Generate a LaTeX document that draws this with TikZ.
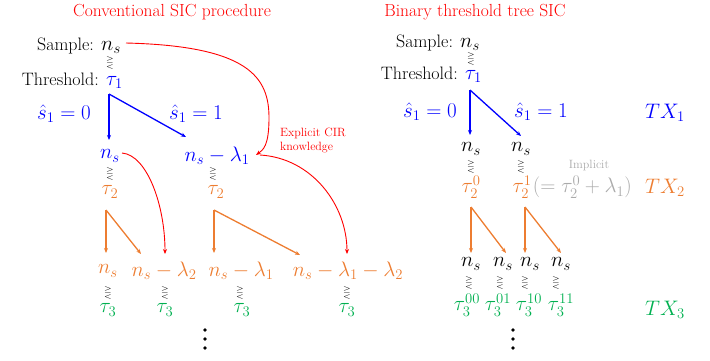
\RequirePackage{fix-cm}
\documentclass[tikz,border=0pt]{standalone}
\usepackage{amssymb}
\usepackage{fontspec}
\usetikzlibrary{arrows.meta}
\definecolor{myblue}{RGB}{0,0,255}
\definecolor{myorange}{RGB}{237,125,49}
\definecolor{mygreen}{RGB}{0,176,80}
\definecolor{mygray}{RGB}{170,170,170}
\definecolor{myred}{RGB}{255,0,0}
\newcommand{\mfs}{\fontsize{21}{24}\selectfont}
\tikzset{
  every node/.style={inner sep=1pt, font=\mfs},
  txt/.style={font=\fontsize{18}{22}\selectfont},
  ttl/.style={text=myred, font=\fontsize{17.5}{20}\selectfont},
  note/.style={text=myred, font=\fontsize{12}{14}\selectfont, align=left},
  cmp/.style={font=\fontsize{10}{11}\selectfont, inner sep=0pt},
  blu/.style={text=myblue},
  org/.style={text=myorange},
  grn/.style={text=mygreen},
  gry/.style={text=mygray},
  barrow/.style={draw=myblue, line width=1.3pt, -{Stealth[length=5pt,width=4pt]}},
  oarrow/.style={draw=myorange, line width=1.3pt, -{Stealth[length=5pt,width=4pt]}},
  rarrow/.style={draw=myred, line width=0.9pt, -{Stealth[length=5pt,width=4pt]}},
  vdot/.style={fill=black, circle, inner sep=0pt, minimum size=3.6pt},
}
\newcommand{\cmpsym}{$\gtreqless$}
\begin{document}
\begin{tikzpicture}[x=1pt,y=-1pt]
\useasboundingbox (0,0) rectangle (710,360);
% ---------------- Left: conventional SIC ----------------
\node[ttl] (titL) at (172,12) {Conventional SIC procedure};
\node[txt, anchor=base east] (samL) at (122,50) {Sample: {\mfs$n_s$}};
\node[cmp] (gL0) at (110,63) {\cmpsym};
\node[txt, anchor=base east] (thrL) at (124,85) {Threshold: {\mfs\textcolor{myblue}{$\tau_1$}}};
\coordinate (bL) at (109,94);
\coordinate (bLa) at (109,140);
\coordinate (bLb) at (186,137);
\draw[barrow] (bL) -- (bLa);
\draw[barrow] (bL) -- (bLb);
\node[blu] (s0L) at (64,114) {$\hat{s}_1=0$};
\node[blu] (s1L) at (196,114) {$\hat{s}_1=1$};
% row 2
\node[blu] (a2) at (110,156) {$n_s$};
\node[cmp] (ga2) at (110,174) {\cmpsym};
\node[org] (ta2) at (110,192) {$\tau_2$};
\node[blu] (b2) at (217,156) {$n_s-\lambda_1$};
\node[cmp] (gb2) at (213,174) {\cmpsym};
\node[org] (tb2) at (216,192) {$\tau_2$};
% orange arrows
\coordinate (oL1) at (106,210);
\coordinate (oL1a) at (106,253);
\coordinate (oL1b) at (141,254);
\coordinate (oL2) at (214,210);
\coordinate (oL2a) at (214,253);
\coordinate (oL2b) at (300,255);
\draw[oarrow] (oL1) -- (oL1a);
\draw[oarrow] (oL1) -- (oL1b);
\draw[oarrow] (oL2) -- (oL2a);
\draw[oarrow] (oL2) -- (oL2b);
% row 3
\node[org] (c1) at (108,271) {$n_s$};
\node[org] (c2) at (164,271) {$n_s-\lambda_2$};
\node[org] (c3) at (241,271) {$n_s-\lambda_1$};
\node[org] (c4) at (348,271) {$n_s-\lambda_1-\lambda_2$};
\node[cmp] (gc1) at (108,293) {\cmpsym};
\node[cmp] (gc2) at (165,293) {\cmpsym};
\node[cmp] (gc3) at (240,293) {\cmpsym};
\node[cmp] (gc4) at (347,293) {\cmpsym};
\node[grn] (tc1) at (108,310) {$\tau_3$};
\node[grn] (tc2) at (165,310) {$\tau_3$};
\node[grn] (tc3) at (242,310) {$\tau_3$};
\node[grn] (tc4) at (347,310) {$\tau_3$};
\node[vdot] (dL1) at (205,330) {};
\node[vdot] (dL2) at (205,339) {};
\node[vdot] (dL3) at (205,348) {};
% red curves
\coordinate (rA) at (126,43);
\coordinate (rAe) at (256,155);
\coordinate (rB) at (122,153);
\coordinate (rBe) at (165,254);
\coordinate (rC) at (260,155);
\coordinate (rCe) at (347,254);
\draw[rarrow] (rA) .. controls (250,46) and (269,78) .. (269,118) .. controls (269,146) and (263,150) .. (rAe);
\draw[rarrow] (rB) .. controls (147,155) and (165,205) .. (rBe);
\draw[rarrow] (rC) .. controls (312,158) and (347,205) .. (rCe);
\node[note, anchor=west] (cir) at (279,140) {Explicit CIR\\knowledge};
% ---------------- Right: binary threshold tree ----------------
\node[ttl] (titR) at (475,12) {Binary threshold tree SIC};
\node[txt, anchor=base east] (samR) at (481,47) {Sample: {\mfs$n_s$}};
\node[cmp] (gR0) at (471,59) {\cmpsym};
\node[txt, anchor=base east] (thrR) at (483,79) {Threshold: {\mfs\textcolor{myblue}{$\tau_1$}}};
\coordinate (bR) at (470,90);
\coordinate (bRa) at (470,135);
\coordinate (bRb) at (521,136);
\draw[barrow] (bR) -- (bRa);
\draw[barrow] (bR) -- (bRb);
\node[blu] (s0R) at (430,112) {$\hat{s}_1=0$};
\node[blu] (s1R) at (541,112) {$\hat{s}_1=1$};
\node[blu] (tx1) at (665,113) {$TX_1$};
% row 2
\node (d1) at (471,149) {$n_s$};
\node (d2) at (521,149) {$n_s$};
\node[cmp] (gd1) at (471,167) {\cmpsym};
\node[cmp] (gd2) at (521,167) {\cmpsym};
\node[org] (td1) at (471,187) {$\tau_2^0$};
\node[org] (td2) at (522,187) {$\tau_2^1$};
\node[gry, anchor=west, inner sep=0pt] (imp) at (td2.east) {$(=\tau_2^0+\lambda_1)$};
\node[gry, font=\fontsize{12}{14}\selectfont] (impl) at (589,165) {Implicit};
\node[org] (tx2) at (665,188) {$TX_2$};
% orange arrows
\coordinate (oR1) at (471,207);
\coordinate (oR1a) at (471,253);
\coordinate (oR1b) at (506,253);
\coordinate (oR2) at (525,207);
\coordinate (oR2a) at (525,253);
\coordinate (oR2b) at (561,253);
\draw[oarrow] (oR1) -- (oR1a);
\draw[oarrow] (oR1) -- (oR1b);
\draw[oarrow] (oR2) -- (oR2a);
\draw[oarrow] (oR2) -- (oR2b);
% row 3
\node (e1) at (471,264) {$n_s$};
\node (e2) at (503,264) {$n_s$};
\node (e3) at (530,264) {$n_s$};
\node (e4) at (561,264) {$n_s$};
\node[cmp] (ge1) at (469,283) {\cmpsym};
\node[cmp] (ge2) at (500,283) {\cmpsym};
\node[cmp] (ge3) at (525,283) {\cmpsym};
\node[cmp] (ge4) at (556,283) {\cmpsym};
\node[grn] (te1) at (467,305) {$\tau_3^{00}$};
\node[grn] (te2) at (498,305) {$\tau_3^{01}$};
\node[grn] (te3) at (529,305) {$\tau_3^{10}$};
\node[grn] (te4) at (561,305) {$\tau_3^{11}$};
\node[grn] (tx3) at (665,310) {$TX_3$};
\node[vdot] (dR1) at (513,330) {};
\node[vdot] (dR2) at (513,339) {};
\node[vdot] (dR3) at (513,348) {};
\end{tikzpicture}
\end{document}
